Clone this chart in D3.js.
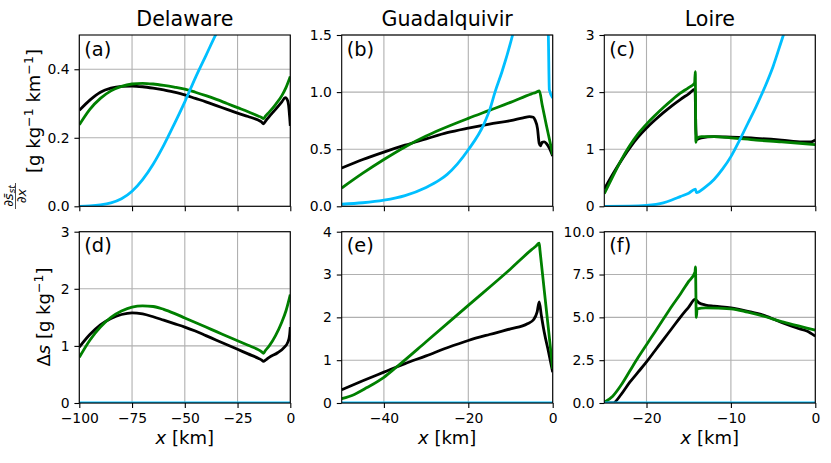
<!DOCTYPE html>
<html>
<head>
<meta charset="utf-8">
<script src="https://cdn.jsdelivr.net/npm/d3@7"></script>
<style>
  body { margin: 0; background: #fff; }
  svg { font-family: "DejaVu Sans", sans-serif; }
</style>
</head>
<body>
<div id="viz"></div>
<script>
// ---- data ----
const rivers = ['Delaware', 'Guadalquivir', 'Loire'];
const panelLetters = ['(a)', '(b)', '(c)', '(d)', '(e)', '(f)'];
const xDomains = [[-100, 0], [-50, 0], [-25, 0]];
const xTicks = [[-100, -75, -50, -25, 0], [-40, -20, 0], [-20, -10, 0]];
const gradYMax = [0.5, 1.5, 3];
const gradYTicks = [[0, 0.2, 0.4], [0, 0.5, 1, 1.5], [0, 1, 2, 3]];
const gradYFormat = ['.1f', '.1f', 'd'];
const dsYMax = [3, 4, 10];
const dsYTicks = [[0, 1, 2, 3], [0, 1, 2, 3, 4], [0, 2.5, 5, 7.5, 10]];
const dsYFormat = ['d', 'd', '.1f'];

// Delaware: salinity gradient
const delGradBlack = [[-100, 0.28], [-95, 0.31], [-90, 0.333], [-85, 0.345], [-80, 0.35], [-75, 0.351],
  [-70, 0.349], [-65, 0.345], [-60, 0.34], [-55, 0.333], [-50, 0.325], [-45, 0.315], [-40, 0.305],
  [-35, 0.294], [-30, 0.283], [-25, 0.272], [-20, 0.262], [-15, 0.251], [-13.8, 0.247], [-12.7, 0.241],
  [-11.8, 0.248], [-10, 0.262], [-7, 0.283], [-4, 0.305], [-2.4, 0.317], [-1.5, 0.312], [-0.8, 0.295],
  [-0.3, 0.26], [0, 0.235]];
const delGradGreen = [[-100, 0.238], [-95, 0.283], [-90, 0.315], [-85, 0.337], [-80, 0.35], [-75, 0.357],
  [-70, 0.359], [-65, 0.357], [-60, 0.353], [-55, 0.348], [-50, 0.342], [-45, 0.333], [-40, 0.323],
  [-35, 0.312], [-30, 0.3], [-25, 0.288], [-20, 0.276], [-15, 0.263], [-13.8, 0.26], [-12.7, 0.256],
  [-11.8, 0.263], [-10, 0.275], [-7, 0.297], [-4, 0.323], [-2, 0.347], [0, 0.379]];
const delGradCyan = [[-100, 0], [-95, 0.001], [-90, 0.004], [-85, 0.01], [-80, 0.022], [-75, 0.044],
  [-70, 0.078], [-65, 0.123], [-60, 0.178], [-55, 0.24], [-50, 0.305], [-45, 0.375], [-40, 0.44],
  [-35, 0.505], [-30, 0.56]];

// Guadalquivir: salinity gradient
const guaGradBlack = [[-50, 0.335], [-45, 0.41], [-40, 0.475], [-35, 0.535], [-30, 0.59], [-25, 0.645],
  [-20, 0.685], [-15, 0.72], [-10, 0.75], [-7, 0.775], [-5.5, 0.786], [-4.6, 0.78], [-4.2, 0.757],
  [-3.6, 0.68], [-3.2, 0.55], [-2.9, 0.53], [-2.5, 0.56], [-2, 0.565], [-1.5, 0.55], [-0.8, 0.51], [0, 0.44]];
const guaGradGreen = [[-50, 0.16], [-45, 0.29], [-40, 0.41], [-35, 0.52], [-30, 0.615], [-26.7, 0.67],
  [-20, 0.77], [-15, 0.84], [-10, 0.91], [-5, 0.985], [-4, 0.997], [-3.17, 1.01], [-2.5, 0.89],
  [-1.5, 0.71], [-0.5, 0.54], [0, 0.45]];
const guaGradCyan = [[-50, 0.018], [-45, 0.031], [-40, 0.054], [-35, 0.094], [-30, 0.165], [-26.7, 0.233],
  [-25, 0.28], [-20, 0.495], [-16.3, 0.72], [-14.86, 0.853], [-13.67, 1.0], [-12, 1.18], [-9.5, 1.5],
  [-7, 1.9], [-4, 2.3], [-2, 2.0], [-1.04, 1.5], [-0.8, 1.02], [0, 0.95]];

// Loire: salinity gradient
const loiGradBlack = [[-25, 0.3], [-24, 0.56], [-23, 0.8], [-22, 1.02], [-21, 1.21], [-20, 1.37], [-19, 1.51],
  [-18, 1.64], [-17, 1.76], [-16, 1.87], [-15, 1.97], [-14.25, 2.05], [-14.15, 1.35], [-14.05, 1.17],
  [-13.5, 1.2], [-12, 1.22], [-10, 1.21], [-7, 1.19], [-4, 1.16], [-1.5, 1.13], [-0.5, 1.13], [0, 1.16]];
const loiGradGreen = [[-25, 0.22], [-24, 0.52], [-23, 0.81], [-22, 1.06], [-21, 1.27], [-20, 1.44], [-19, 1.59],
  [-18, 1.73], [-17, 1.86], [-16, 1.98], [-15, 2.08], [-14.3, 2.16], [-14.22, 2.36], [-14.15, 1.12],
  [-14.05, 1.19], [-13.5, 1.22], [-12, 1.22], [-10, 1.2], [-7, 1.16], [-4, 1.13], [-1.5, 1.1], [0, 1.08]];
const loiGradCyan = [[-25, 0], [-22, 0.003], [-20, 0.015], [-18, 0.06], [-17, 0.11], [-16, 0.17], [-15, 0.23],
  [-14.2, 0.3], [-14.1, 0.24], [-13, 0.34], [-12, 0.47], [-11, 0.65], [-10, 0.87], [-9, 1.15], [-8, 1.45],
  [-7, 1.75], [-6, 2.08], [-5, 2.45], [-4, 2.9], [-3, 3.35], [0, 4.6]];

// Delaware: stratification
const delSaltBlack = [[-100, 0.98], [-95, 1.2], [-90, 1.37], [-85, 1.48], [-80, 1.55], [-75, 1.58], [-70, 1.56],
  [-65, 1.51], [-60, 1.45], [-55, 1.39], [-50, 1.33], [-45, 1.26], [-40, 1.18], [-35, 1.1], [-30, 1.02],
  [-25, 0.94], [-20, 0.86], [-15, 0.78], [-13.7, 0.755], [-12.7, 0.73], [-11.8, 0.75], [-10, 0.8], [-6, 0.88],
  [-3, 0.97], [-1, 1.08], [-0.3, 1.2], [0, 1.33]];
const delSaltGreen = [[-100, 0.8], [-95, 1.1], [-90, 1.33], [-85, 1.5], [-80, 1.61], [-75, 1.68], [-70, 1.7],
  [-65, 1.69], [-60, 1.64], [-55, 1.57], [-50, 1.49], [-45, 1.41], [-40, 1.33], [-35, 1.25], [-30, 1.17],
  [-25, 1.09], [-20, 1.01], [-15, 0.93], [-13.7, 0.9], [-12.7, 0.87], [-11.8, 0.92], [-10, 1.0], [-7, 1.18],
  [-4, 1.42], [-2, 1.62], [0, 1.9]];
const delSaltCyan = [[-100, 0], [0, 0]];

// Guadalquivir: stratification
const guaSaltBlack = [[-50, 0.31], [-45, 0.52], [-40, 0.72], [-35, 0.92], [-30, 1.1], [-25, 1.29], [-20, 1.46],
  [-15, 1.6], [-10, 1.73], [-6, 1.85], [-4.5, 1.95], [-3.7, 2.12], [-3.2, 2.36], [-2.7, 2.05], [-2, 1.65],
  [-1, 1.2], [0, 0.72]];
const guaSaltGreen = [[-50, 0.1], [-47, 0.2], [-44, 0.36], [-40, 0.6], [-37, 0.84], [-30, 1.43], [-20, 2.28],
  [-10, 3.13], [-5, 3.58], [-4, 3.66], [-3.2, 3.73], [-3, 3.55], [-2, 2.63], [-1, 1.72], [0, 0.8]];
const guaSaltCyan = [[-50, 0], [0, 0]];

// Loire: stratification
const loiSaltBlack = [[-25, 0], [-24, 0], [-23, 0.5], [-22, 1.2], [-21, 1.8], [-20, 2.4], [-19, 3.05], [-18, 3.7],
  [-17, 4.35], [-16, 5.0], [-15, 5.6], [-14.25, 6.05], [-13.8, 5.85], [-13, 5.72], [-12, 5.65], [-10, 5.55],
  [-8, 5.35], [-6, 5.1], [-4, 4.7], [-2, 4.35], [-1, 4.2], [0, 3.9]];
const loiSaltGreen = [[-25, 0.05], [-24, 0.4], [-23, 1.05], [-22, 1.85], [-21, 2.65], [-20, 3.4], [-19, 4.15],
  [-18, 4.9], [-17, 5.65], [-16, 6.35], [-15, 7.1], [-14.25, 7.65], [-14.2, 7.95], [-14.1, 5.0], [-14.0, 5.5],
  [-13, 5.55], [-10, 5.5], [-8, 5.3], [-6, 5.05], [-4, 4.75], [-2, 4.5], [0, 4.25]];
const loiSaltCyan = [[-25, 0], [0, 0]];

const seriesColors = ['#000000', '#008000', '#00bfff'];

// ---- layout ----
const width = 831;
const height = 463;
const colX = [79.3, 341.7, 604.3];
const colW = 211;
const rowY = [35, 231.7];
const rowH = 171.3;
const TICK = 4.9;
const LW = 2.8;

const svg = d3
  .select('#viz')
  .append('svg')
  .attr('width', width)
  .attr('height', height)
  .attr('viewBox', `0 0 ${width} ${height}`);

const panels = [
  { row: 0, col: 0, yMax: gradYMax[0], yTicks: gradYTicks[0], yFmt: gradYFormat[0], series: [delGradBlack, delGradGreen, delGradCyan] },
  { row: 0, col: 1, yMax: gradYMax[1], yTicks: gradYTicks[1], yFmt: gradYFormat[1], series: [guaGradBlack, guaGradGreen, guaGradCyan] },
  { row: 0, col: 2, yMax: gradYMax[2], yTicks: gradYTicks[2], yFmt: gradYFormat[2], series: [loiGradBlack, loiGradGreen, loiGradCyan] },
  { row: 1, col: 0, yMax: dsYMax[0], yTicks: dsYTicks[0], yFmt: dsYFormat[0], series: [delSaltBlack, delSaltGreen, delSaltCyan] },
  { row: 1, col: 1, yMax: dsYMax[1], yTicks: dsYTicks[1], yFmt: dsYFormat[1], series: [guaSaltBlack, guaSaltGreen, guaSaltCyan] },
  { row: 1, col: 2, yMax: dsYMax[2], yTicks: dsYTicks[2], yFmt: dsYFormat[2], series: [loiSaltBlack, loiSaltGreen, loiSaltCyan] }
];

const styleAxis = sel => {
  sel.select('.domain').remove();
  sel.selectAll('.tick line').attr('stroke', '#000').attr('stroke-width', 1.1);
  sel.selectAll('.tick text').attr('fill', '#000').attr('font-size', 13.9);
  sel.attr('font-family', null);
};

panels.forEach((p, i) => {
  const x0 = colX[p.col];
  const y0 = rowY[p.row];
  const x = d3.scaleLinear().domain(xDomains[p.col]).range([x0, x0 + colW]);
  const y = d3.scaleLinear().domain([0, p.yMax]).range([y0 + rowH, y0]);

  const g = svg.append('g').attr('class', 'panel');

  g.append('clipPath')
    .attr('id', `clip${i}`)
    .append('rect')
    .attr('x', x0)
    .attr('y', y0)
    .attr('width', colW)
    .attr('height', rowH);

  // grid
  g.selectAll('.gx')
    .data(xTicks[p.col])
    .enter()
    .append('line')
    .attr('class', 'gx')
    .attr('x1', d => x(d))
    .attr('x2', d => x(d))
    .attr('y1', y0)
    .attr('y2', y0 + rowH)
    .attr('stroke', '#b0b0b0')
    .attr('stroke-width', 1.1);

  g.selectAll('.gy')
    .data(p.yTicks)
    .enter()
    .append('line')
    .attr('class', 'gy')
    .attr('x1', x0)
    .attr('x2', x0 + colW)
    .attr('y1', d => y(d))
    .attr('y2', d => y(d))
    .attr('stroke', '#b0b0b0')
    .attr('stroke-width', 1.1);

  // curves
  const line = d3
    .line()
    .x(d => x(d[0]))
    .y(d => y(d[1]))
    .curve(d3.curveMonotoneX);

  g.append('g')
    .attr('clip-path', `url(#clip${i})`)
    .selectAll('path')
    .data(p.series)
    .enter()
    .append('path')
    .attr('d', line)
    .attr('fill', 'none')
    .attr('stroke', (d, k) => seriesColors[k])
    .attr('stroke-width', LW)
    .attr('stroke-linejoin', 'round');

  // axes
  const xAxis = d3
    .axisBottom(x)
    .tickValues(xTicks[p.col])
    .tickSize(TICK)
    .tickPadding(TICK)
    .tickSizeOuter(0)
    .tickFormat(p.row === 1 ? d3.format('d') : () => '');

  g.append('g')
    .attr('transform', `translate(0,${y0 + rowH})`)
    .call(xAxis)
    .call(styleAxis);

  const yAxis = d3
    .axisLeft(y)
    .tickValues(p.yTicks)
    .tickSize(TICK)
    .tickPadding(TICK)
    .tickSizeOuter(0)
    .tickFormat(d3.format(p.yFmt));

  g.append('g')
    .attr('transform', `translate(${x0},0)`)
    .call(yAxis)
    .call(styleAxis);

  // frame
  g.append('rect')
    .attr('x', x0)
    .attr('y', y0)
    .attr('width', colW)
    .attr('height', rowH)
    .attr('fill', 'none')
    .attr('stroke', '#000')
    .attr('stroke-width', 1.1);

  // panel letter
  g.append('text')
    .attr('x', x0 + 5)
    .attr('y', y0 + 20.5)
    .attr('font-size', 19.4)
    .text(panelLetters[i]);

  if (p.row === 0) {
    g.append('text')
      .attr('x', x0 + colW / 2)
      .attr('y', 26)
      .attr('text-anchor', 'middle')
      .attr('font-size', 20.6)
      .text(rivers[p.col]);
  } else {
    const xl = g.append('text')
      .attr('x', x0 + colW / 2)
      .attr('y', 444)
      .attr('text-anchor', 'middle')
      .attr('font-size', 18);
    xl.append('tspan').attr('font-style', 'italic').text('x');
    xl.append('tspan').text(' [km]');
  }
});

// y label, top row: d s_bar_st / dx [g kg^-1 km^-1]
const yl1 = svg.append('g').attr('transform', 'translate(40,127) rotate(-90)');
const frac = yl1.append('g').attr('transform', 'translate(-69,0)');
const num = frac.append('text')
  .attr('x', 0)
  .attr('y', -27)
  .attr('text-anchor', 'middle')
  .attr('font-size', 13);
num.append('tspan').text('\u2202');
num.append('tspan').attr('font-style', 'italic').text('s\u0304');
num.append('tspan').attr('font-style', 'italic').attr('font-size', 9).attr('dy', 2).text('st');
frac.append('line')
  .attr('x1', -13)
  .attr('x2', 13)
  .attr('y1', -24.5)
  .attr('y2', -24.5)
  .attr('stroke', '#000')
  .attr('stroke-width', 0.7);
const den = frac.append('text')
  .attr('x', 0)
  .attr('y', -14.5)
  .attr('text-anchor', 'middle')
  .attr('font-size', 13);
den.append('tspan').text('\u2202');
den.append('tspan').attr('font-style', 'italic').text('x');

const main1 = yl1.append('text')
  .attr('x', 16)
  .attr('y', 0)
  .attr('text-anchor', 'middle')
  .attr('font-size', 18);
main1.append('tspan').text('[g kg');
main1.append('tspan').attr('font-size', 12.6).attr('dy', -7.5).text('\u22121');
main1.append('tspan').attr('dy', 7.5).text(' km');
main1.append('tspan').attr('font-size', 12.6).attr('dy', -7.5).text('\u22121');
main1.append('tspan').attr('dy', 7.5).text(']');

// y label, bottom row: Delta s [g kg^-1]
const yl2 = svg.append('text')
  .attr('transform', 'translate(50,317) rotate(-90)')
  .attr('text-anchor', 'middle')
  .attr('font-size', 18);
yl2.append('tspan').text('\u0394');
yl2.append('tspan').attr('font-style', 'italic').text('s');
yl2.append('tspan').text(' [g kg');
yl2.append('tspan').attr('font-size', 12.6).attr('dy', -7.5).text('\u22121');
yl2.append('tspan').attr('dy', 7.5).text(']');
</script>
</body>
</html>
